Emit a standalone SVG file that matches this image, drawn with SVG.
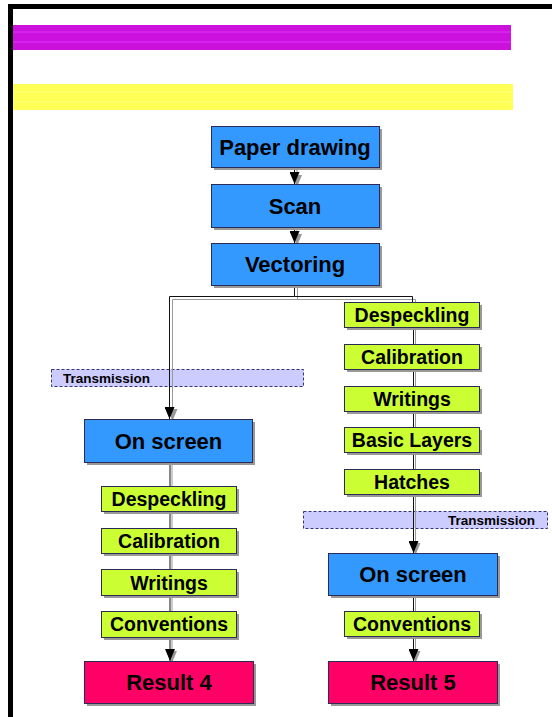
<svg xmlns="http://www.w3.org/2000/svg" width="552" height="717" viewBox="0 0 552 717">
<style>
.sh{fill:#999}
.box{stroke:#2b2b55;stroke-width:1}
.blue{fill:#3399ff}
.green{fill:#ccff33}
.red{fill:#ff0066}
.t{font-family:"Liberation Sans",Arial,sans-serif;font-weight:bold;fill:#000;text-anchor:middle}
.tb{font-size:22px}
.tg{font-size:19.5px}
.tr{font-size:13.5px}
.trans{fill:#ccccff;stroke:#333377;stroke-width:1;stroke-dasharray:3,2}
.ln{fill:none;stroke:#111;stroke-width:1}
.lns{fill:none;stroke:#999;stroke-width:1}
</style>
<defs>
<marker id="ah" viewBox="0 0 12 10" refX="12" refY="5" markerWidth="12" markerHeight="10" markerUnits="userSpaceOnUse" orient="auto">
<path d="M0 0 L12 5 L0 10 Z" fill="#000"/>
</marker>
<marker id="ahs" viewBox="0 0 12 10" refX="12" refY="5" markerWidth="12" markerHeight="10" markerUnits="userSpaceOnUse" orient="auto">
<path d="M0 0 L12 5 L0 10 Z" fill="#999"/>
</marker>
</defs>
<rect width="552" height="717" fill="#fff"/>
<g id="frame">
<path d="M10.5 717 V6.5 H552" fill="none" stroke="#000" stroke-width="5"/>
<rect x="13" y="25" width="498" height="25" fill="#cc11dd"/>
<rect x="13" y="31" width="498" height="2" fill="#dd33ff" opacity="0.5"/>
<rect x="13" y="41" width="498" height="2" fill="#dd33ff" opacity="0.5"/>
<rect x="13" y="84" width="500" height="26" fill="#ffff55"/>
<rect x="13" y="91" width="500" height="2" fill="#ffff88" opacity="0.5"/>
<rect x="13" y="101" width="500" height="2" fill="#ffff88" opacity="0.5"/>
</g>
<g id="transmission-left">
<rect class="trans" x="51.5" y="369.5" width="252" height="17"/>
<text class="t tr" x="63" y="383" style="text-anchor:start">Transmission</text>
</g>
<g id="transmission-right">
<rect class="trans" x="303.5" y="511.5" width="244" height="17"/>
<text class="t tr" x="535" y="525" style="text-anchor:end">Transmission</text>
</g>
<g id="connectors">
<path class="lns" d="M297 170 V187" marker-end="url(#ahs)"/>
<path class="ln" d="M294.5 167 V184" marker-end="url(#ah)"/>
<path class="lns" d="M297 230 V246" marker-end="url(#ahs)"/>
<path class="ln" d="M294.5 227 V243" marker-end="url(#ah)"/>
<path class="lns" d="M297.5 286 V299.5 H172.5 V421" marker-end="url(#ahs)"/>
<path class="lns" d="M297.5 299.5 H415.5 V302"/>
<path class="ln" d="M294.5 285 V296.5 H169.5 V419" marker-end="url(#ah)"/>
<path class="ln" d="M294.5 296.5 H412.5 V302"/>
<path class="lns" d="M415.5 327 V555" marker-end="url(#ahs)"/>
<path class="ln" d="M413.5 327 V553" marker-end="url(#ah)"/>
<path class="lns" d="M415.5 595 V663" marker-end="url(#ahs)"/>
<path class="ln" d="M413.5 595 V661" marker-end="url(#ah)"/>
<path class="lns" d="M172 462 V663" marker-end="url(#ahs)"/>
<path class="ln" d="M170 462 V661" marker-end="url(#ah)"/>
</g>
<g id="paper-drawing">
<rect class="sh" x="214" y="129" width="168" height="41"/>
<rect class="box blue" x="211.5" y="126.5" width="168" height="41"/>
<text class="t tb" x="295" y="155">Paper drawing</text>
</g>
<g id="scan">
<rect class="sh" x="214" y="187" width="168" height="43"/>
<rect class="box blue" x="211.5" y="184.5" width="168" height="43"/>
<text class="t tb" x="295" y="214">Scan</text>
</g>
<g id="vectoring">
<rect class="sh" x="214" y="246" width="168" height="42"/>
<rect class="box blue" x="211.5" y="243.5" width="168" height="42"/>
<text class="t tb" x="295" y="272">Vectoring</text>
</g>
<g id="r-despeckling">
<rect class="sh" x="347" y="305" width="135" height="25"/>
<rect class="box green" x="344.5" y="302.5" width="135" height="25"/>
<text class="t tg" x="412" y="322">Despeckling</text>
</g>
<g id="r-calibration">
<rect class="sh" x="347" y="347" width="135" height="25"/>
<rect class="box green" x="344.5" y="344.5" width="135" height="25"/>
<text class="t tg" x="412" y="364">Calibration</text>
</g>
<g id="r-writings">
<rect class="sh" x="347" y="389" width="135" height="25"/>
<rect class="box green" x="344.5" y="386.5" width="135" height="25"/>
<text class="t tg" x="412" y="406">Writings</text>
</g>
<g id="r-basic-layers">
<rect class="sh" x="347" y="430" width="135" height="25"/>
<rect class="box green" x="344.5" y="427.5" width="135" height="25"/>
<text class="t tg" x="412" y="447">Basic Layers</text>
</g>
<g id="r-hatches">
<rect class="sh" x="347" y="472" width="135" height="25"/>
<rect class="box green" x="344.5" y="469.5" width="135" height="25"/>
<text class="t tg" x="412" y="489">Hatches</text>
</g>
<g id="l-on-screen">
<rect class="sh" x="87" y="422" width="168" height="43"/>
<rect class="box blue" x="84.5" y="419.5" width="168" height="43"/>
<text class="t tb" x="168.5" y="449">On screen</text>
</g>
<g id="l-despeckling">
<rect class="sh" x="104" y="489" width="135" height="25"/>
<rect class="box green" x="101.5" y="486.5" width="135" height="25"/>
<text class="t tg" x="169" y="506">Despeckling</text>
</g>
<g id="l-calibration">
<rect class="sh" x="104" y="531" width="135" height="25"/>
<rect class="box green" x="101.5" y="528.5" width="135" height="25"/>
<text class="t tg" x="169" y="548">Calibration</text>
</g>
<g id="l-writings">
<rect class="sh" x="104" y="572" width="135" height="26"/>
<rect class="box green" x="101.5" y="569.5" width="135" height="26"/>
<text class="t tg" x="169" y="590">Writings</text>
</g>
<g id="l-conventions">
<rect class="sh" x="104" y="614" width="135" height="26"/>
<rect class="box green" x="101.5" y="611.5" width="135" height="26"/>
<text class="t tg" x="169" y="631">Conventions</text>
</g>
<g id="r-on-screen">
<rect class="sh" x="331" y="556" width="169" height="42"/>
<rect class="box blue" x="328.5" y="553.5" width="169" height="42"/>
<text class="t tb" x="413" y="582">On screen</text>
</g>
<g id="r-conventions">
<rect class="sh" x="347" y="614" width="135" height="25"/>
<rect class="box green" x="344.5" y="611.5" width="135" height="25"/>
<text class="t tg" x="412" y="631">Conventions</text>
</g>
<g id="result-4">
<rect class="sh" x="87" y="664" width="169" height="42"/>
<rect class="box red" x="84.5" y="661.5" width="169" height="42"/>
<text class="t tb" x="169" y="690">Result 4</text>
</g>
<g id="result-5">
<rect class="sh" x="331" y="664" width="169" height="42"/>
<rect class="box red" x="328.5" y="661.5" width="169" height="42"/>
<text class="t tb" x="413" y="690">Result 5</text>
</g>
</svg>
